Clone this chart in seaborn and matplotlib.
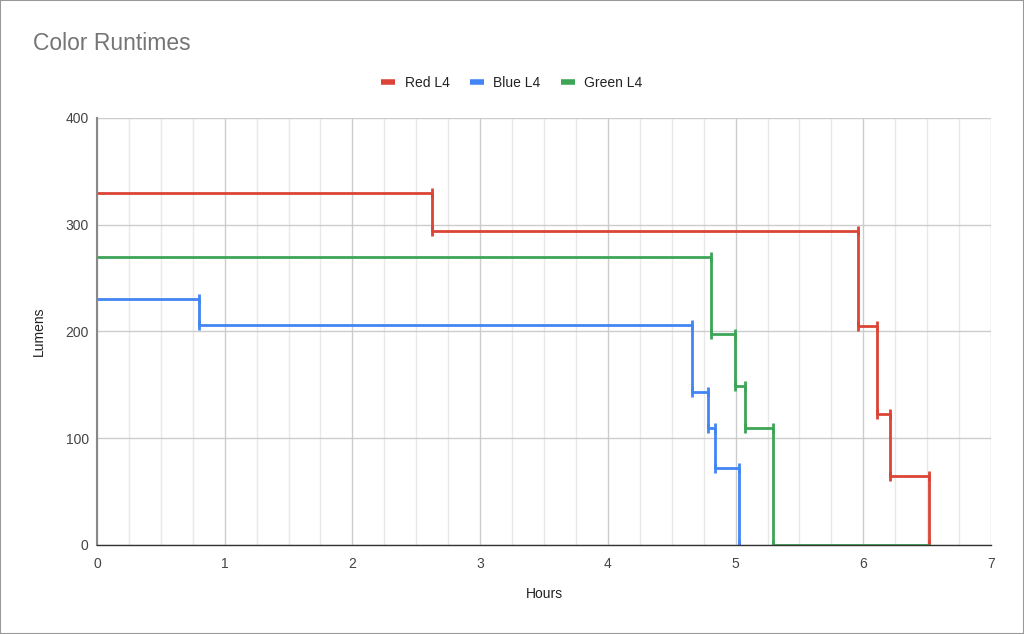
import matplotlib
matplotlib.use("Agg")
import matplotlib.pyplot as plt
import seaborn as sns
import pandas as pd
from matplotlib.lines import Line2D
from matplotlib.patches import Rectangle
from matplotlib.ticker import MultipleLocator

# step points: (hours, lumens), level holds until next point
red_hours = [0, 2.62, 5.96, 6.105, 6.21, 6.515]
red_lumens = [330, 294, 205, 123, 65, 0]
blue_hours = [0, 0.80, 4.655, 4.785, 4.84, 5.03]
blue_lumens = [230, 206, 143, 110, 72, 0]
green_hours = [0, 4.81, 4.995, 5.07, 5.295, 6.515]
green_lumens = [270, 198, 149, 110, 0, 0]

series_names = ["Red L4", "Blue L4", "Green L4"]
series_colors = ["#DB4437", "#4285F4", "#3DA556"]
x_ticks = [0, 1, 2, 3, 4, 5, 6, 7]
y_ticks = [0, 100, 200, 300, 400]

sns.set_theme(style="white")
plt.rcParams["font.family"] = ["Liberation Sans", "DejaVu Sans"]

fig = plt.figure(figsize=(10.24, 6.34), dpi=100)
ax = fig.add_axes([0.0947, 0.1404, 0.8731, 0.6735])

data = [(red_hours, red_lumens), (blue_hours, blue_lumens), (green_hours, green_lumens)]
for (hrs, lum), name, col in zip(data, series_names, series_colors):
    df = pd.DataFrame({"Hours": hrs, "Lumens": lum})
    sns.lineplot(data=df, x="Hours", y="Lumens", ax=ax, color=col, lw=2.0,
                 drawstyle="steps-post", estimator=None, legend=False, zorder=3)
    # little caps at each step change
    tx, ty = [], []
    for i in range(1, len(hrs)):
        if lum[i] != lum[i - 1]:
            tx += [hrs[i], hrs[i]]
            ty += [lum[i - 1], lum[i]]
    ax.plot(tx, ty, ls="none", marker="|", ms=7.5, mew=2.0, color=col, zorder=3)

ax.set_xlim(0, 7)
ax.set_ylim(0, 400)
ax.set_xticks(x_ticks)
ax.set_yticks(y_ticks)
ax.xaxis.set_minor_locator(MultipleLocator(0.25))
ax.grid(True, which="major", color="#cccccc", lw=1.0, zorder=0)
ax.grid(True, which="minor", axis="x", color="#e8e8e8", lw=1.0, zorder=0)
ax.set_axisbelow(True)
ax.tick_params(axis="both", which="both", length=0, labelsize=10, labelcolor="#444444")
ax.tick_params(axis="x", pad=8.5)
ax.tick_params(axis="y", pad=6)

for s in ["top", "right"]:
    ax.spines[s].set_visible(False)
ax.spines["left"].set_color("#888888")
ax.spines["left"].set_linewidth(1.5)
ax.spines["bottom"].set_color("#333333")
ax.spines["bottom"].set_linewidth(1.0)
ax.spines["left"].set_zorder(4)
ax.spines["bottom"].set_zorder(4)

ax.set_xlabel("Hours", fontsize=10, color="#222222", labelpad=12)
ax.set_ylabel("Lumens", fontsize=10, color="#222222", labelpad=14)

fig.text(33 / 1024, 1 - 44 / 634, "Color Runtimes", fontsize=16.5, color="#757575", va="center")

handles = [Line2D([], [], color=c, lw=4, solid_capstyle="butt") for c in series_colors]
fig.legend(handles, series_names, loc="center", bbox_to_anchor=(0.5, 0.869), ncol=3,
           frameon=False, fontsize=10, handlelength=1.0, handletextpad=0.7,
           columnspacing=1.45, labelcolor="#222222")

fig.patches.append(Rectangle((0, 0), 1, 1, transform=fig.transFigure, fill=False,
                             edgecolor="#999999", lw=1.5))

fig.savefig("out.png", dpi=100)
